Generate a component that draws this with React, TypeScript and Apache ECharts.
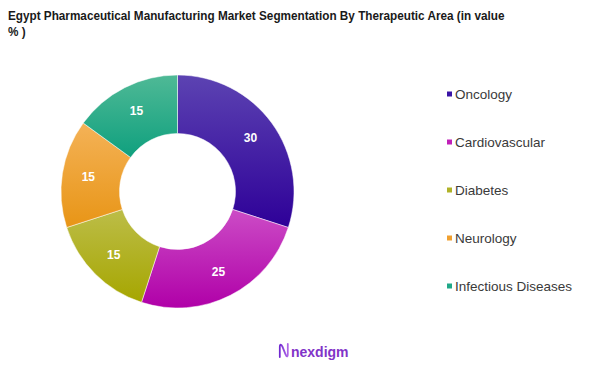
import React, { useEffect, useRef } from "react";
import * as echarts from "echarts";

const titleText = "Egypt Pharmaceutical Manufacturing Market Segmentation By Therapeutic Area (in value\n% )";
const categories = ["Oncology", "Cardiovascular", "Diabetes", "Neurology", "Infectious Diseases"];
const values = [30, 25, 15, 15, 15];
const topColors = ["#5c43b2", "#cc4cc6", "#bcbd48", "#f4b257", "#4fb996"];
const bottomColors = ["#2e0098", "#b000a8", "#a6a600", "#e89516", "#0fa07e"];
const legendColors = ["#3a14a6", "#c020b8", "#b0b228", "#f0a030", "#20a888"];

echarts.graphic.registerShape(
  "logoN",
  echarts.graphic.extendPath("M1,13 L1,3 C1,0 3,0 4.5,3 L8,10 C9.5,13 11,13 11,10 L11,0", {})
);

export default function App() {
  const ref = useRef<HTMLDivElement>(null);
  useEffect(() => {
    const chart = echarts.init(ref.current!, null, { renderer: "svg" });
    const data = categories.map((name, i) => ({
      name,
      value: values[i],
      itemStyle: {
        color: new echarts.graphic.LinearGradient(0, 0, 0, 1, [
          { offset: 0, color: topColors[i] },
          { offset: 1, color: bottomColors[i] },
        ]),
      },
    }));
    chart.setOption({
      animation: false,
      legend: {
        orient: "vertical",
        left: 440,
        top: 81,
        itemGap: 32,
        itemWidth: 7,
        itemHeight: 7,
        icon: "rect",
        data: categories.map((name, i) => ({ name, itemStyle: { color: legendColors[i] } })),
        textStyle: {
          fontFamily: "Arial, 'Liberation Sans', sans-serif",
          fontSize: 13.5,
          color: "#3a3a3a",
          lineHeight: 16,
          padding: [0, 0, 0, -3],
        },
      },
      series: [
        {
          type: "pie",
          center: [177.5, 191.5],
          radius: [58, 116.5],
          startAngle: 90,
          clockwise: true,
          data,
          label: {
            show: true,
            position: "inside",
            formatter: "{c}",
            color: "#ffffff",
            fontFamily: "Arial, 'Liberation Sans', sans-serif",
            fontWeight: "bold",
            fontSize: 12,
          },
          labelLine: { show: false },
          itemStyle: { borderColor: "#ffffff", borderWidth: 0.5 },
          emphasis: { disabled: true },
        },
      ],
      graphic: [
        {
          type: "text",
          x: 8,
          y: 8,
          scaleX: 0.87,
          style: {
            text: titleText,
            fill: "#1a1a1a",
            font: "bold 13.5px Arial, 'Liberation Sans', sans-serif",
            lineHeight: 16,
            verticalAlign: "top",
          },
        },
        {
          type: "logoN",
          x: 279,
          y: 344,
          scaleX: 0.8,
          scaleY: 1,
          style: {
            fill: "none",
            stroke: new echarts.graphic.LinearGradient(0, 0, 1, 0, [
              { offset: 0, color: "#7028d0" },
              { offset: 1, color: "#b068e8" },
            ]),
            lineWidth: 2.2,
            lineCap: "round",
          },
        },
        {
          type: "text",
          x: 291,
          y: 352,
          style: {
            text: "nexdigm",
            fill: "#8233c8",
            font: "bold 14px Arial, 'Liberation Sans', sans-serif",
            verticalAlign: "middle",
          },
        },
      ],
    });
    return () => chart.dispose();
  }, []);
  return (
    <div
      ref={ref}
      style={{ position: "fixed", left: 0, top: 0, width: 602, height: 368, background: "#ffffff" }}
    />
  );
}
